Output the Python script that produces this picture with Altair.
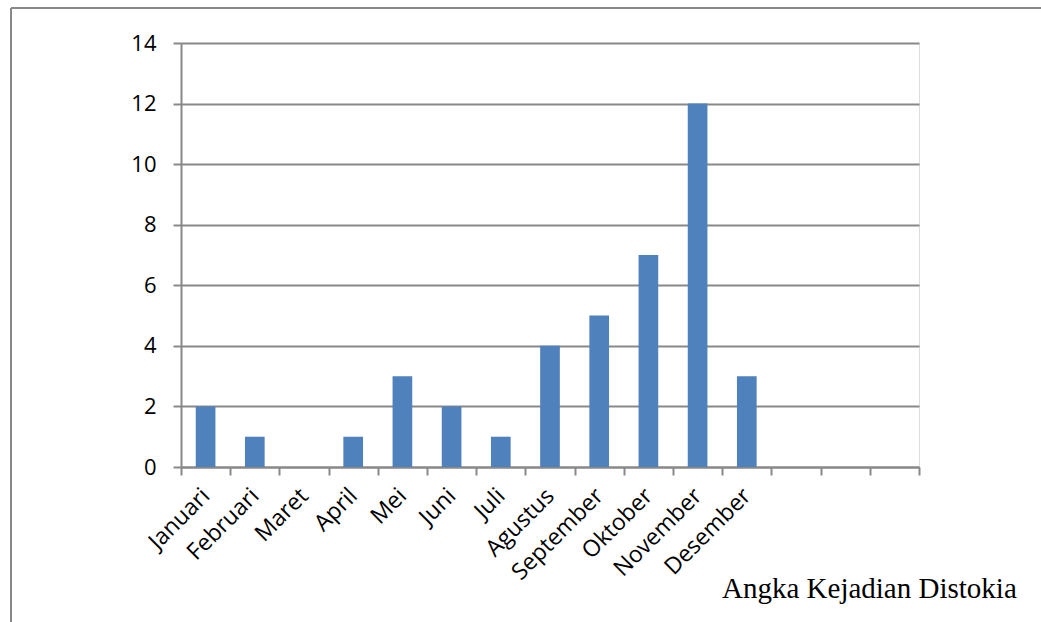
import altair as alt
import pandas as pd

months = ["Januari", "Februari", "Maret", "April", "Mei", "Juni", "Juli",
          "Agustus", "September", "Oktober", "November", "Desember", "_1", "_2", "_3"]
values = [2, 1, 0, 1, 3, 2, 1, 4, 5, 7, 12, 3, None, None, None]
y_ticks = [0, 2, 4, 6, 8, 10, 12, 14]
caption = "Angka Kejadian Distokia"

df = pd.DataFrame({"bulan": months, "nilai": values})

grey = "#888888"
font = "Open Sans"

bars = alt.Chart(df).mark_bar(color="#4F81BD", width=alt.RelativeBandSize(0.4)).encode(
    x=alt.X("bulan:N", sort=months,
            scale=alt.Scale(paddingInner=0, paddingOuter=0),
            axis=alt.Axis(title=None, labelAngle=-45, labelAlign="right", labelBaseline="middle",
                          labelExpr="indexof(datum.label, '_') == 0 ? '' : datum.label",
                          labelFont=font, labelFontSize=23, labelColor="black",
                          labelPadding=17, tickSize=8, tickColor=grey, tickWidth=2,
                          tickBand="extent", domainColor=grey, domainWidth=2, grid=False,
                          labelOverlap=False)),
    y=alt.Y("nilai:Q", scale=alt.Scale(domain=[0, 14], nice=False),
            axis=alt.Axis(title=None, values=y_ticks, labelFont=font, labelFontSize=22,
                          labelColor="black", labelPadding=17, tickSize=8, tickColor=grey,
                          tickWidth=2, domainColor=grey, domainWidth=2,
                          grid=True, gridColor=grey, gridWidth=2)),
)

text = alt.Chart(pd.DataFrame({"t": [caption]})).mark_text(
    font="Liberation Serif", fontSize=29, align="left", baseline="alphabetic", color="black"
).encode(x=alt.value(541), y=alt.value(555), text="t:N")

frame_left = alt.Chart(pd.DataFrame({"a": [0]})).mark_rule(color=grey, strokeWidth=2).encode(
    x=alt.value(-170), y=alt.value(-35), y2=alt.value(700))
frame_top = alt.Chart(pd.DataFrame({"a": [0]})).mark_rule(color=grey, strokeWidth=2).encode(
    x=alt.value(-170), x2=alt.value(900), y=alt.value(-35))

chart = alt.layer(frame_left, frame_top, bars, text).properties(
    width=738, height=424,
    autosize=alt.AutoSizeParams(type="none"),
    padding={"left": 181, "top": 43, "right": 122, "bottom": 155},
).configure_view(stroke=None).configure(background="white")

chart.save("out.html", embed_options={"renderer": "svg", "actions": False})
